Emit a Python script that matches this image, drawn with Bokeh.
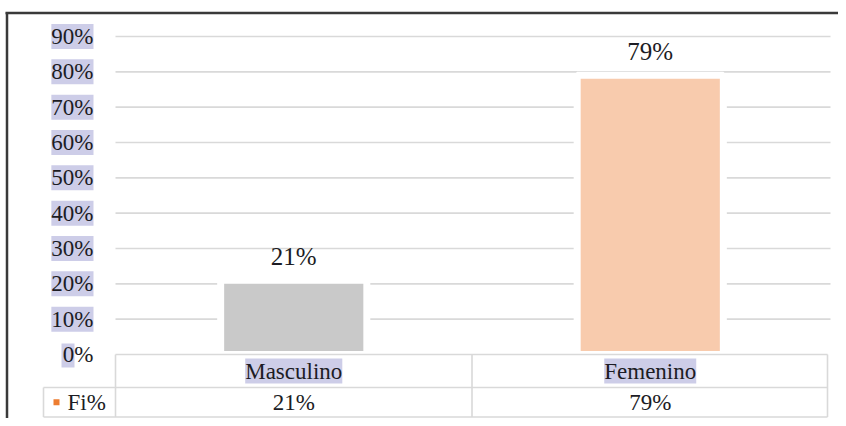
from bokeh.plotting import figure
from bokeh.models import Range1d, Label
from bokeh.embed import file_html
from bokeh.resources import INLINE

# ---- data ----
categories = ["Masculino", "Femenino"]
values = [21, 79]
series_name = "Fi%"
y_ticks = [0, 10, 20, 30, 40, 50, 60, 70, 80, 90]
tick_labels = [f"{t}%" for t in y_ticks]
bar_colors = ["#C9C9C9", "#F8CBAD"]

# ---- layout (pixels in the picture) ----
W, H = 838, 418
X0, CW = 115.0, 356.5      # x of first category start, px per category
Y0, YS = 354.0, 3.5333     # y of 0 %, px per percent


def fx(px):
    return (px - X0) / CW


def fy(py):
    return (Y0 - py) / YS


TXT = "#1c1c24"
HL = "#CDCDE8"
GRID = "#D9D9D9"


def label(x, y, text, size="23px", align="center", bg=None):
    kw = dict(x=x, y=y, text=text, text_font="Liberation Serif",
              text_font_size=size, text_color=TXT, text_align=align,
              text_baseline="middle")
    if bg:
        kw["background_fill_color"] = bg
    p.add_layout(Label(**kw))


p = figure(width=W, height=H, output_backend="svg", toolbar_location=None,
           x_axis_type=None, y_axis_type=None, min_border=0,
           x_range=Range1d(fx(0), fx(W)), y_range=Range1d(fy(H), fy(0)))
p.outline_line_color = None
p.background_fill_color = "white"
p.border_fill_color = "white"

# outer frame (top and left edges)
p.segment(x0=[fx(5)], x1=[fx(W)], y0=[fy(12.5)], y1=[fy(12.5)],
          line_color="#3a3a3a", line_width=2.5)
p.segment(x0=[fx(6.5)], x1=[fx(6.5)], y0=[fy(12)], y1=[fy(H)],
          line_color="#3a3a3a", line_width=2.5)

# gridlines
grid_ticks = [t for t in y_ticks if t > 0]
n = len(categories)
p.segment(x0=[0] * len(grid_ticks), x1=[fx(830)] * len(grid_ticks),
          y0=grid_ticks, y1=grid_ticks, line_color=GRID, line_width=1.6)

# bars
xs = [i + 0.5 for i in range(n)]
for x, v, c in zip(xs, values, bar_colors):
    p.vbar(x=[x], top=[v], bottom=0, width=0.41,
           fill_color=c, line_color="white", line_width=7)

# data table lines
r1, r2, r3 = 0, fy(387), fy(416.5)
xl, xr = fx(43), fx(827)
hy = [r1, r2, r3]
p.segment(x0=[0, xl, xl], x1=[xr, xr, xr], y0=hy, y1=hy,
          line_color=GRID, line_width=1.6)
vx = [0] + [i + 1 for i in range(n - 1)] + [xr, xl]
vy0 = [r1] * (n + 1) + [r2]
p.segment(x0=vx, x1=vx, y0=vy0, y1=[r3] * len(vx), line_color=GRID, line_width=1.6)

row1_y = (r1 + r2) / 2
row2_y = (r2 + r3) / 2

# zero label highlight (only behind the digit) and legend key
p.segment(x0=[fx(61)], x1=[fx(74)], y0=[y_ticks[0] - 1 / YS],
          y1=[y_ticks[0] - 1 / YS], line_color=HL, line_width=24)
p.segment(x0=[fx(53)], x1=[fx(59)], y0=[row2_y], y1=[row2_y],
          line_color="#ED7D31", line_width=6)

# data labels (24 px above bar top)
for x, v in zip(xs, values):
    label(x, v + 24 / YS, f"{v}%", size="25px")

# y tick labels
for t, lab in zip(y_ticks, tick_labels):
    label(fx(93), t, lab, align="right", bg=HL if t > 0 else None)

# table texts
for x, cat, v in zip(xs, categories, values):
    label(x, row1_y, cat, bg=HL)
    label(x, row2_y, f"{v}%")
label(fx(67), row2_y, series_name, align="left")

open("out.html", "w").write(file_html(p, INLINE))
